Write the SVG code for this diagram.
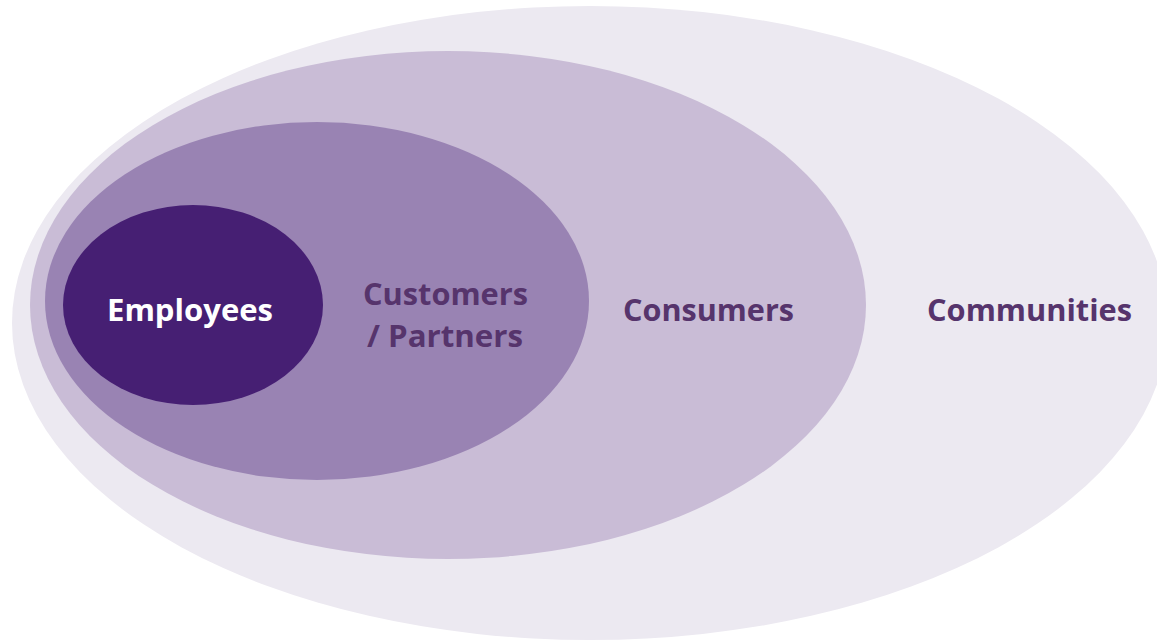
<svg xmlns="http://www.w3.org/2000/svg" width="1157" height="640" viewBox="0 0 1157 640">
<style>
.lbl{font-family:"Open Sans","Liberation Sans",sans-serif;font-weight:bold;font-size:30px;fill:#56346C}
.wht{fill:#FFFFFF}
</style>
<rect width="1157" height="640" fill="#FFFFFF"/>
<g id="communities">
<ellipse cx="590" cy="323" rx="578" ry="317" fill="#ECE9F1"/>
<text class="lbl" x="927" y="321" textLength="205" lengthAdjust="spacingAndGlyphs">Communities</text>
</g>
<g id="consumers">
<ellipse cx="448" cy="305" rx="418" ry="254" fill="#C9BCD6"/>
<text class="lbl" x="623" y="321" textLength="171" lengthAdjust="spacingAndGlyphs">Consumers</text>
</g>
<g id="customers">
<ellipse cx="317" cy="301" rx="272" ry="179" fill="#9983B3"/>
<text class="lbl" x="363" y="305" textLength="165" lengthAdjust="spacingAndGlyphs">Customers</text>
<text class="lbl" x="367" y="347" textLength="156" lengthAdjust="spacingAndGlyphs">/ Partners</text>
</g>
<g id="employees">
<ellipse cx="193" cy="305" rx="130" ry="100" fill="#461F73"/>
<text class="lbl wht" x="107" y="321" textLength="166" lengthAdjust="spacingAndGlyphs">Employees</text>
</g>
<g id="connectors"></g>
</svg>
